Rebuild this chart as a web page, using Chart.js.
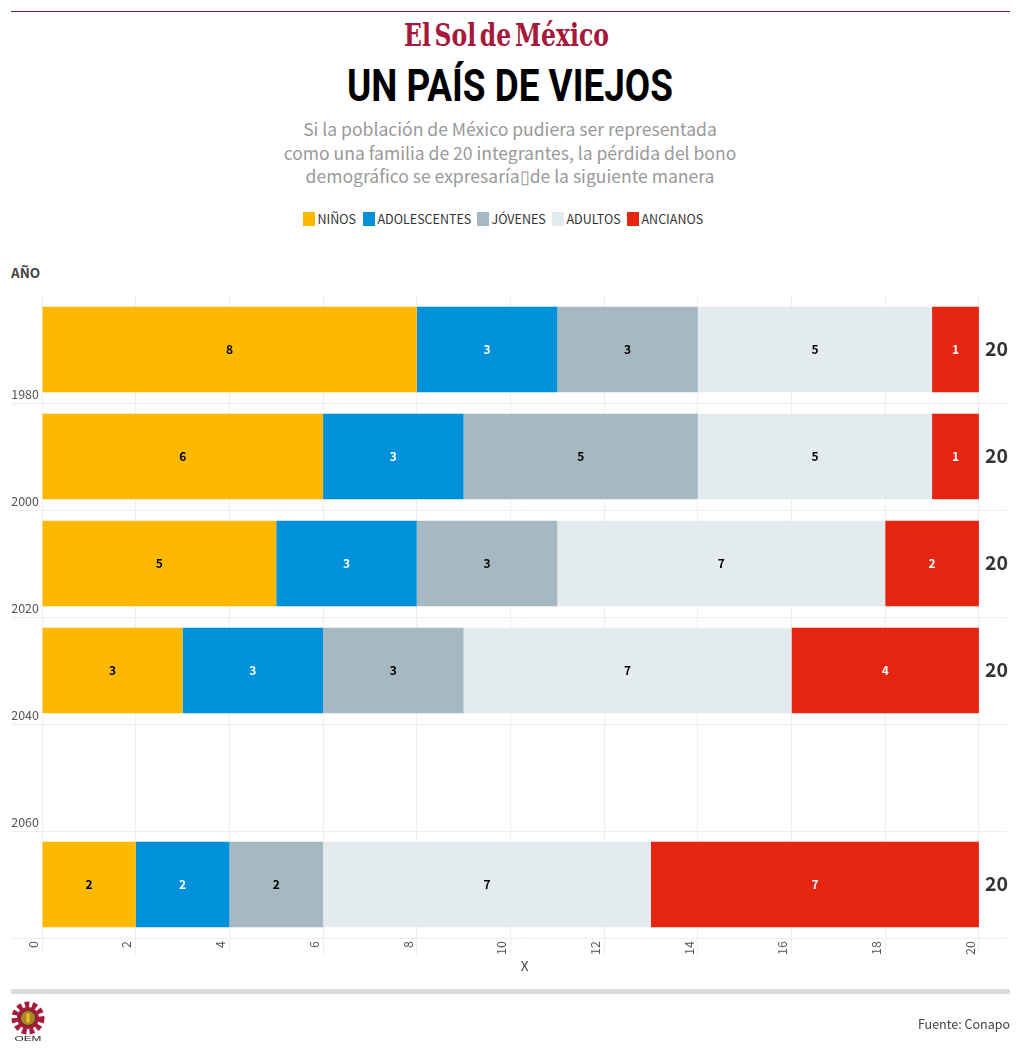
<!DOCTYPE html>
<html lang="es">
<head>
<meta charset="utf-8">
<title>Un país de viejos</title>
<script src="https://cdn.jsdelivr.net/npm/chart.js@4/dist/chart.umd.min.js"></script>
<style>
html,body{margin:0;padding:0;background:#fff;width:1020px;height:1057px;overflow:hidden}
body{position:relative;font-family:"Noto Sans CJK SC","Noto Sans",sans-serif}
canvas{position:absolute;left:0;top:0}
.abs{position:absolute}
#sub{left:0;width:1020px;top:117px;text-align:center;font-size:17.55px;line-height:23.5px;color:#999}
#legend{left:0;top:211px;height:16px;width:1020px}
#legend span{position:absolute;top:0;font-size:12.5px;line-height:16px;color:#333;white-space:nowrap}
#legend i{position:absolute;top:1px;width:12px;height:14px;display:block}
</style>
</head>
<body>
<div class="abs" style="left:11px;top:11px;width:999px;height:1px;background:#7a1f48"></div>
<svg class="abs" style="left:0;top:0" width="1020" height="120">
  <text x="404" y="46" textLength="205" lengthAdjust="spacingAndGlyphs" font-family="DejaVu Serif" font-weight="700" font-size="31" word-spacing="-6" fill="#a6193b">El Sol de México</text>
  <text x="347" y="101" textLength="326" lengthAdjust="spacingAndGlyphs" font-family="Roboto" font-weight="700" font-size="44" fill="#000">UN PAÍS DE VIEJOS</text>
</svg>
<div id="sub" class="abs">Si la población de México pudiera ser representada<br>como una familia de 20 integrantes, la pérdida del bono<br>demográfico se expresaría▯de la siguiente manera</div>
<div id="legend" class="abs"></div>
<div class="abs" style="left:11px;top:264px;font-size:13.5px;line-height:16px;font-weight:700;color:#444">AÑO</div>
<canvas id="c" width="1020" height="1057" style="width:1020px;height:1057px"></canvas>
<div class="abs" style="left:11px;top:989px;width:999px;height:5px;background:#dcdcdc"></div>
<svg class="abs" style="left:8px;top:998px" width="40" height="48">
  <circle cx="20" cy="20" r="13.5" fill="none" stroke="#a6193b" stroke-width="6" stroke-dasharray="4.5 3"/>
  <circle cx="20" cy="20" r="11" fill="#a6193b"/>
  <circle cx="20" cy="20" r="7.5" fill="#a8862a" stroke="#5b3a12" stroke-width="1"/>
  <rect x="18.5" y="15.5" width="3" height="9" fill="#f0c020"/>
  <text x="6.5" y="43" textLength="27" lengthAdjust="spacingAndGlyphs" font-family="Liberation Sans" font-weight="400" font-size="8" fill="#222">OEM</text>
</svg>
<div class="abs" style="right:10px;top:1016px;font-size:12.5px;line-height:16px;color:#444">Fuente: Conapo</div>
<script>
const years = ["1980", "2000", "2020", "2040", "2060", ""];
const seriesNames = ["NIÑOS", "ADOLESCENTES", "JÓVENES", "ADULTOS", "ANCIANOS"];
const ninos = [8, 6, 5, 3, null, 2];
const adolescentes = [3, 3, 3, 3, null, 2];
const jovenes = [3, 5, 3, 3, null, 2];
const adultos = [5, 5, 7, 7, null, 7];
const ancianos = [1, 1, 2, 4, null, 7];
const totals = [20, 20, 20, 20, null, 20];
const xTicks = [0, 2, 4, 6, 8, 10, 12, 14, 16, 18, 20];
const seriesValues = [ninos, adolescentes, jovenes, adultos, ancianos];
const seriesColors = ["#FDB900", "#0091DA", "#A6B9C3", "#E4EBEF", "#E62412"];
const labelColors = ["#000", "#fff", "#000", "#000", "#fff"];
const font = '"Noto Sans CJK SC","Noto Sans",sans-serif';

// legend
const legendX = [303, 363, 477, 552, 627];
const legendEl = document.getElementById('legend');
seriesNames.forEach((n, i) => {
  const sw = document.createElement('i');
  sw.style.left = legendX[i] + 'px';
  sw.style.background = seriesColors[i];
  legendEl.appendChild(sw);
  const t = document.createElement('span');
  t.style.left = (legendX[i] + 14.5) + 'px';
  t.textContent = n;
  legendEl.appendChild(t);
});

const barLabels = {
  id: 'barLabels',
  afterDatasetsDraw(chart) {
    const ctx = chart.ctx;
    ctx.save();
    ctx.textAlign = 'center';
    ctx.textBaseline = 'middle';
    ctx.font = '700 12px ' + font;
    chart.data.datasets.forEach((ds, di) => {
      const meta = chart.getDatasetMeta(di);
      ctx.fillStyle = labelColors[di];
      meta.data.forEach((bar, i) => {
        const v = ds.data[i];
        if (v == null) return;
        ctx.fillText(String(v), (bar.x + bar.base) / 2, bar.y);
      });
    });
    ctx.textAlign = 'left';
    ctx.font = '700 19.5px ' + font;
    ctx.fillStyle = '#333';
    const sx = chart.scales.x, sy = chart.scales.y;
    totals.forEach((t, i) => {
      if (t == null) return;
      ctx.fillText(String(t), sx.getPixelForValue(t) + 6, sy.getPixelForValue(i) - 1);
    });
    ctx.restore();
  }
};

new Chart(document.getElementById('c'), {
  type: 'bar',
  data: {
    labels: years,
    datasets: seriesValues.map((d, i) => ({
      label: seriesNames[i],
      data: d,
      backgroundColor: seriesColors[i],
      borderWidth: 0,
      barPercentage: 0.8,
      categoryPercentage: 1,
      stack: 's'
    }))
  },
  options: {
    indexAxis: 'y',
    responsive: false,
    animation: false,
    layout: { padding: { top: 296, right: 13, bottom: 83, left: 0 } },
    plugins: { legend: { display: false }, tooltip: { enabled: false }, title: { display: false } },
    scales: {
      x: {
        type: 'linear',
        stacked: true,
        min: 0,
        max: 20.6,
        afterFit(s) { s.height = 36; },
        afterBuildTicks(s) { s.ticks = xTicks.map(v => ({ value: v })); },
        border: { display: false },
        grid: { color: '#eeeeee', lineWidth: 1, tickLength: 17 },
        ticks: {
          autoSkip: false, includeBounds: false, minRotation: 90, maxRotation: 90,
          padding: -14, labelOffset: -9,
          color: '#555', font: { family: font, size: 12.5 }
        },
        title: { display: true, text: 'X', color: '#444', font: { family: font, size: 13.5 }, padding: 0 }
      },
      y: {
        type: 'category',
        stacked: true,
        afterFit(s) { s.width = 42; },
        border: { display: false },
        grid: {
          offset: true,
          tickLength: 31,
          color: ctx => ctx.index === 0 ? 'rgba(0,0,0,0)' : '#eeeeee'
        },
        ticks: {
          autoSkip: false, padding: -28, labelOffset: 45,
          color: '#555', font: { family: font, size: 12.5 }
        }
      }
    }
  },
  plugins: [barLabels]
});
</script>
</body>
</html>
